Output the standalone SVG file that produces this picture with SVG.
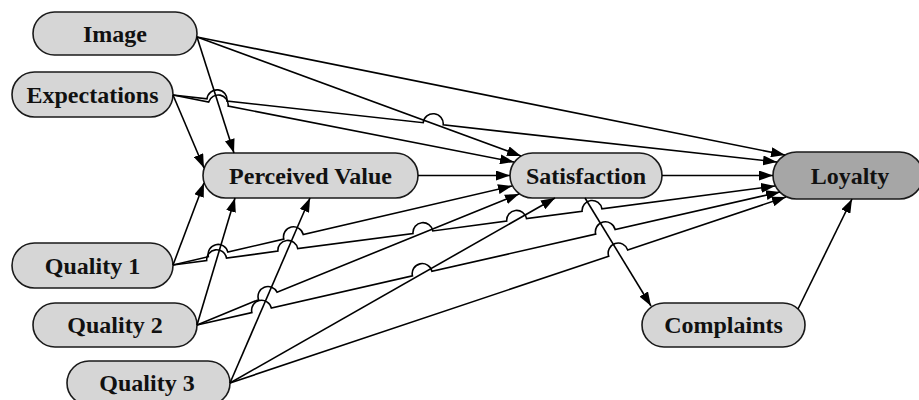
<svg xmlns="http://www.w3.org/2000/svg" width="919" height="400" viewBox="0 0 919 400">
<style>
.node rect{fill:#d6d6d6;stroke:#1a1a1a;stroke-width:1.6}
.node.dark rect{fill:#a6a6a6}
.node text{font-family:"Liberation Serif","Times New Roman",serif;font-weight:bold;font-size:24px;fill:#111;text-anchor:middle}
#edges path{fill:none;stroke:#000;stroke-width:1.6;marker-end:url(#ah)}
</style>
<defs>
<marker id="ah" markerWidth="14" markerHeight="10" refX="14" refY="5" orient="auto" markerUnits="userSpaceOnUse">
<path d="M0,0 L14,5 L0,10 z" fill="#000"/>
</marker>
</defs>
<rect width="919" height="400" fill="#fff"/>
<g id="n-image" class="node"><rect x="33" y="12" width="164" height="43" rx="21.5"/><text x="115" y="41.5">Image</text></g>
<g id="n-expectations" class="node"><rect x="12" y="72" width="161" height="45" rx="22.5"/><text x="92.5" y="102.5">Expectations</text></g>
<g id="n-perceived" class="node"><rect x="203" y="153" width="215" height="45" rx="22.5"/><text x="310.5" y="183.5">Perceived Value</text></g>
<g id="n-satisfaction" class="node"><rect x="510" y="153" width="152" height="45" rx="22.5"/><text x="586" y="183.5">Satisfaction</text></g>
<g id="n-loyalty" class="node dark"><rect x="773" y="152" width="150" height="47" rx="23.5"/><text x="850" y="183.5">Loyalty</text></g>
<g id="n-quality1" class="node"><rect x="12" y="243" width="161" height="45" rx="22.5"/><text x="92.5" y="273.5">Quality 1</text></g>
<g id="n-quality2" class="node"><rect x="33" y="303" width="164" height="44" rx="22"/><text x="115" y="333">Quality 2</text></g>
<g id="n-quality3" class="node"><rect x="67" y="361" width="163" height="44" rx="22"/><text x="147" y="390.5">Quality 3</text></g>
<g id="n-complaints" class="node"><rect x="642" y="303" width="163" height="44" rx="22"/><text x="723.5" y="333">Complaints</text></g>
<g id="edges">
<path d="M197,37 L234,153"/>
<path d="M197,37 L521,156"/>
<path d="M197,37 L785,155"/>
<path d="M173,95 L204,168"/>
<path d="M173,95 L208.65,102 A10 10 0 0 1 228.15,106 L514,162"/>
<path d="M173,95 L207,98.8 A10 10 0 0 1 227,101 L423.2,122.7 A10 10 0 0 1 443.2,124.9 L777,162"/>
<path d="M418,175.5 L510,175.5"/>
<path d="M662,175.5 L773,175.5"/>
<path d="M173,265 L204,183"/>
<path d="M173,265 L208.35,256.76 A10 10 0 0 1 227.85,252.14 L283.75,239.05 A10 10 0 0 1 303.25,234.55 L512,186"/>
<path d="M173,265 L206.69,260.55 A10 10 0 0 1 226.51,258.05 L277.89,251.15 A10 10 0 0 1 297.71,248.65 L412.99,233.45 A10 10 0 0 1 432.81,230.95 L506.69,221.15 A10 10 0 0 1 526.51,218.65 L582.09,211.25 A10 10 0 0 1 601.91,208.75 L775,186"/>
<path d="M197,325 L235,198"/>
<path d="M197,325 L258.55,299.65 A10 10 0 0 1 277.05,292.15 L519,194"/>
<path d="M197,325 L251.85,312.55 A10 10 0 0 1 271.35,308.05 L412.45,275.85 A10 10 0 0 1 431.95,271.35 L595.65,234.05 A10 10 0 0 1 615.15,229.55 L780,192"/>
<path d="M230,383 L310,198"/>
<path d="M230,383 L555,198"/>
<path d="M230,383 L608.7,256.2 A10 10 0 0 1 627.7,249.95 L786,197"/>
<path d="M585,198 L651,306"/>
<path d="M798,309 L852,199"/>
</g>
</svg>
